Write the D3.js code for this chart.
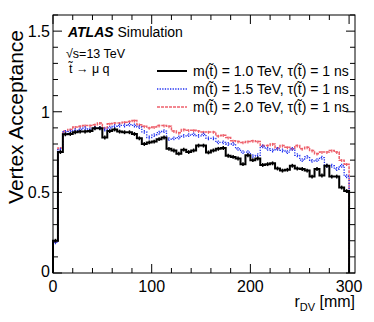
<!DOCTYPE html>
<html>
<head>
<meta charset="utf-8">
<script src="https://cdn.jsdelivr.net/npm/d3@7"></script>
<style>
  body { margin: 0; background: #fff; }
  text { font-family: "Liberation Sans", Arial, sans-serif; }
</style>
</head>
<body>
<div class="container"></div>
<script>
// bin edges: 60 bins of 5 mm from 0 to 300
var binWidth = 5;
var nBins = 60;

// vertex acceptance per bin
var accM10 = [0.20, 0.75, 0.86, 0.862, 0.873, 0.877, 0.877, 0.88, 0.898, 0.898,
  0.84, 0.88, 0.89, 0.877, 0.873, 0.873, 0.862, 0.835, 0.80, 0.81,
  0.815, 0.83, 0.84, 0.77, 0.76, 0.74, 0.765, 0.75, 0.76, 0.79,
  0.79, 0.748, 0.76, 0.77, 0.775, 0.727, 0.72, 0.71, 0.675, 0.73,
  0.70, 0.71, 0.67, 0.675, 0.68, 0.648, 0.635, 0.64, 0.665, 0.648,
  0.645, 0.635, 0.598, 0.645, 0.605, 0.665, 0.598, 0.598, 0.53, 0.508];
var accM15 = [0.19, 0.765, 0.875, 0.877, 0.885, 0.89, 0.898, 0.89, 0.90, 0.90,
  0.89, 0.90, 0.91, 0.915, 0.915, 0.92, 0.915, 0.905, 0.875, 0.84,
  0.855, 0.87, 0.88, 0.83, 0.835, 0.84, 0.85, 0.855, 0.86, 0.85,
  0.86, 0.835, 0.835, 0.81, 0.81, 0.80, 0.80, 0.77, 0.75, 0.75,
  0.725, 0.73, 0.785, 0.77, 0.76, 0.77, 0.76, 0.75, 0.77, 0.73,
  0.70, 0.72, 0.695, 0.70, 0.715, 0.665, 0.665, 0.645, 0.665, 0.60];
var accM20 = [0.20, 0.775, 0.88, 0.89, 0.905, 0.91, 0.915, 0.915, 0.92, 0.93,
  0.90, 0.925, 0.93, 0.93, 0.935, 0.94, 0.945, 0.92, 0.91, 0.90,
  0.905, 0.915, 0.915, 0.91, 0.88, 0.87, 0.89, 0.885, 0.885, 0.88,
  0.875, 0.875, 0.875, 0.85, 0.855, 0.84, 0.82, 0.815, 0.81, 0.815,
  0.82, 0.815, 0.79, 0.79, 0.80, 0.775, 0.79, 0.78, 0.77, 0.79,
  0.77, 0.78, 0.76, 0.74, 0.75, 0.75, 0.76, 0.75, 0.70, 0.675];
// typical statistical uncertainty per series
var errM10 = 0.012, errM15 = 0.012, errM20 = 0.012;

var legendLabels = ["m(t\u0303) = 1.0 TeV, \u03c4(t\u0303) = 1 ns",
                    "m(t\u0303) = 1.5 TeV, \u03c4(t\u0303) = 1 ns",
                    "m(t\u0303) = 2.0 TeV, \u03c4(t\u0303) = 1 ns"];
var xTicks = [0, 100, 200, 300];
var yTicks = [0, 0.5, 1, 1.5];

var W = 374, H = 322;
var fLeft = 53, fTop = 15, fRight = 355, fBottom = 273;

var svg = d3.select(".container").append('svg')
  .attr('width', W)
  .attr('height', H);

var x = d3.scaleLinear().domain([0, 306]).range([fLeft, fRight]);
var y = d3.scaleLinear().domain([0, 1.6]).range([fBottom, fTop]);

var series = [
  {vals: accM10, err: errM10, color: '#000', width: 2, dash: null},
  {vals: accM15, err: errM15, color: '#1f2ff0', width: 1.3, dash: '1.3,1.3'},
  {vals: accM20, err: errM20, color: '#ea3a48', width: 1.5, dash: '3,1', opacity: 0.8}
];

var line = d3.line().x(function(d){return x(d[0]);}).y(function(d){return y(d[1]);});

// draw red first, black on top
series.slice().reverse().forEach(function(s){
  var pts = [[0, 0]];
  s.vals.forEach(function(v, i){
    pts.push([i*binWidth, v]);
    pts.push([(i+1)*binWidth, v]);
  });
  pts.push([nBins*binWidth, 0]);
  var g = svg.append('g').attr('opacity', s.opacity || 1);
  g.append('path')
    .attr('d', line(pts))
    .attr('fill', 'none')
    .attr('stroke', s.color)
    .attr('stroke-width', s.width)
    .attr('stroke-dasharray', s.dash);
  g.selectAll('line.err').data(s.vals).enter()
    .append('line')
    .attr('x1', function(d, i){return x((i+0.5)*binWidth);})
    .attr('x2', function(d, i){return x((i+0.5)*binWidth);})
    .attr('y1', function(d){return y(d - s.err);})
    .attr('y2', function(d){return y(d + s.err);})
    .attr('stroke', s.color)
    .attr('stroke-width', s.width > 1.5 ? 1.5 : 1.2)
    .attr('stroke-dasharray', s.dash);
});

// frame
svg.append('rect')
  .attr('x', fLeft).attr('y', fTop)
  .attr('width', fRight-fLeft).attr('height', fBottom-fTop)
  .attr('fill', 'none').attr('stroke', '#000').attr('stroke-width', 1);

// ticks on all four sides, pointing in
var xMinor = d3.range(0, 306, 20);
var yMinor = d3.range(0, 1.61, 0.1);
var tk = svg.append('g').attr('stroke', '#000').attr('stroke-width', 1);
xMinor.forEach(function(v){
  var len = (v % 100 === 0) ? 9 : 5;
  tk.append('line').attr('x1', x(v)).attr('x2', x(v)).attr('y1', fBottom).attr('y2', fBottom-len);
  tk.append('line').attr('x1', x(v)).attr('x2', x(v)).attr('y1', fTop).attr('y2', fTop+len);
});
yMinor.forEach(function(v){
  var major = Math.abs(v*2 - Math.round(v*2)) < 1e-6;
  var len = major ? 9 : 5;
  tk.append('line').attr('x1', fLeft).attr('x2', fLeft+len).attr('y1', y(v)).attr('y2', y(v));
  tk.append('line').attr('x1', fRight).attr('x2', fRight-len).attr('y1', y(v)).attr('y2', y(v));
});

// tick labels
svg.selectAll('text.xl').data(xTicks).enter().append('text')
  .attr('x', function(d){return x(d);})
  .attr('y', 292)
  .attr('text-anchor', 'middle')
  .attr('font-size', 16)
  .text(function(d){return d;});
svg.selectAll('text.yl').data(yTicks).enter().append('text')
  .attr('x', 50)
  .attr('y', function(d){return y(d) + (d === 0 ? 4 : 6);})
  .attr('text-anchor', 'end')
  .attr('font-size', 16)
  .text(function(d){return d;});

// axis titles
var xt = svg.append('text')
  .attr('x', fRight).attr('y', 307)
  .attr('text-anchor', 'end')
  .attr('font-size', 16);
xt.append('tspan').text('r');
xt.append('tspan').attr('font-size', 11).attr('dy', 4).text('DV');
xt.append('tspan').attr('dy', -4).text(' [mm]');

svg.append('text')
  .attr('transform', 'translate(23,30) rotate(-90)')
  .attr('text-anchor', 'end')
  .attr('font-size', 21)
  .text('Vertex Acceptance');

// labels
var atl = svg.append('text').attr('x', 68).attr('y', 37).attr('font-size', 14);
atl.append('tspan').attr('font-weight', 'bold').attr('font-style', 'italic').text('ATLAS');
atl.append('tspan').text(' Simulation');
svg.append('text').attr('x', 66).attr('y', 58).attr('font-size', 12.5).text('\u221as=13 TeV');
svg.append('text').attr('x', 69).attr('y', 73).attr('font-size', 12.5).text('t\u0303 \u2192 \u03bc q');

// legend
var leg = svg.selectAll('g.leg').data(series).enter().append('g')
  .attr('transform', function(d, i){return 'translate(157,' + (71 + i*18) + ')';});
leg.append('line')
  .attr('x1', 0).attr('x2', 30).attr('y1', 0).attr('y2', 0)
  .attr('stroke', function(d){return d.color;})
  .attr('stroke-width', function(d){return d.width;})
  .attr('stroke-dasharray', function(d){return d.dash;})
  .attr('opacity', function(d){return d.opacity || 1;});
leg.append('text')
  .attr('x', 36).attr('y', 5)
  .attr('font-size', 14)
  .text(function(d, i){return legendLabels[i];});
</script>
</body>
</html>
